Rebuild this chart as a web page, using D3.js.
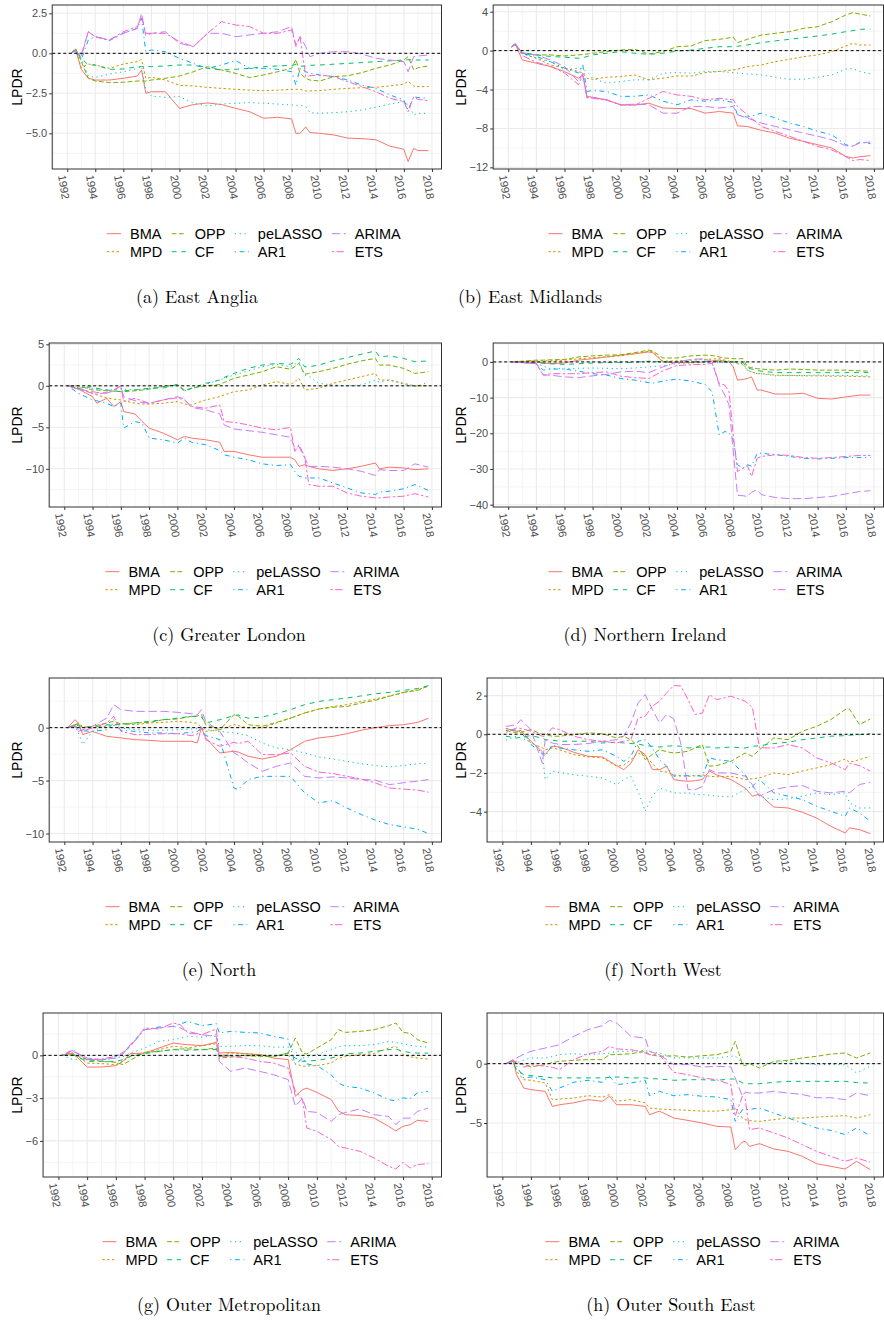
<!DOCTYPE html>
<html>
<head>
<meta charset="utf-8">
<script src="https://cdn.jsdelivr.net/npm/d3@7"></script>
<style>
  * { margin: 0; padding: 0; }
  body { background: #fff; width: 884px; height: 1321px; overflow: hidden; }
  svg { display: block; }
  .tl { font-family: "Liberation Sans", Arial, sans-serif; font-size: 11px; fill: #4d4d4d; }
  .ytitle { font-family: "Liberation Sans", Arial, sans-serif; font-size: 14px; fill: #000; }
  .leg { font-family: "Liberation Sans", Arial, sans-serif; font-size: 14.5px; fill: #000; }
  .cap { font-family: "Latin Modern Roman", "CMU Serif", "Liberation Serif", serif; font-size: 18px; fill: #000; }
</style>
</head>
<body>
<svg id="chart" width="884" height="1321"></svg>
<script>
// series order in every panel array below
const methods = ["BMA", "MPD", "OPP", "CF", "peLASSO", "AR1", "ARIMA", "ETS"];
const colors = ["#F8766D", "#CD9600", "#7CAE00", "#00BE67", "#00BFC4", "#00A9FF", "#C77CFF", "#FF61CC"];
const dashes = [null, "2.4,2.4", "4.8,2.4", "4.8,4.8", "1.2,3.6", "1.2,3.6,4.8,3.6", "8.4,3.6", "2.4,2.4,7.2,2.4"];
const yearTicks = d3.range(1992, 2019, 2);

// (a) East Anglia
const yearsA = [1992.25, 1992.6, 1993, 1993.5, 1994, 1995, 1996, 1997, 1997.3, 1997.6, 1998, 1999, 2000, 2001, 2002, 2003, 2004, 2005, 2006, 2007, 2008, 2008.3, 2008.6, 2009, 2009.3, 2010, 2011, 2012, 2013, 2014, 2015, 2016, 2016.3, 2016.7, 2017, 2017.75];
const eastAnglia = [
  [0, 0.25, -1.0, -1.56, -1.67, -1.67, -1.56, -1.42, -1.04, -2.5, -2.4, -2.4, -3.44, -3.2, -3.1, -3.2, -3.44, -3.65, -4.06, -4.0, -4.1, -5.0, -5.0, -4.6, -4.95, -5.0, -5.1, -5.3, -5.33, -5.4, -5.8, -6.0, -6.77, -5.94, -6.08, -6.08],
  [0, 0.25, -0.9, -0.67, -0.73, -0.94, -0.67, -0.52, -0.38, -1.56, -1.5, -1.67, -2.0, -2.04, -2.13, -2.19, -2.25, -2.3, -2.33, -2.3, -2.25, -2.25, -2.25, -2.35, -2.35, -2.33, -2.25, -2.19, -2.15, -2.12, -2.04, -1.92, -1.75, -2.04, -2.08, -2.08],
  [0, 0.3, -0.5, -1.56, -1.73, -1.83, -1.81, -1.73, -1.73, -1.73, -1.67, -1.56, -1.42, -1.15, -0.83, -1.04, -1.25, -1.52, -1.35, -1.15, -0.94, -0.38, -1.25, -1.56, -1.67, -1.73, -1.46, -1.4, -1.21, -0.94, -0.73, -0.42, -0.21, -1.04, -0.9, -0.79],
  [0, 0.2, -0.3, -0.73, -0.73, -1.0, -0.98, -0.83, -0.83, -0.83, -0.83, -0.79, -0.73, -0.73, -0.94, -1.04, -1.0, -0.94, -0.83, -0.79, -0.75, -0.7, -0.8, -0.8, -0.75, -0.73, -0.68, -0.63, -0.58, -0.52, -0.47, -0.42, -0.4, -0.42, -0.42, -0.42],
  [0, 0.2, -0.3, -1.42, -1.5, -1.3, -1.15, -0.94, -0.83, -2.29, -2.67, -2.75, -2.7, -3.12, -3.29, -3.17, -3.12, -3.08, -3.12, -3.17, -3.23, -3.25, -3.25, -3.33, -3.71, -3.75, -3.71, -3.65, -3.54, -3.37, -3.17, -3.02, -3.2, -3.85, -3.75, -3.75],
  [0, 0.1, -0.4, 0.83, 1.04, 0.79, 1.25, 1.56, 2.19, 0.1, 0.21, 0.1, -0.31, -0.63, -0.94, -0.73, -0.45, -0.94, -0.94, -1.0, -1.15, -1.98, -0.94, -1.15, -1.25, -1.35, -1.46, -1.67, -1.98, -2.19, -2.6, -2.92, -3.54, -2.71, -2.77, -2.81],
  [0, 0.15, -0.1, 1.35, 1.04, 0.83, 1.25, 1.56, 2.5, 1.08, 1.25, 1.35, 0.63, 0.42, 1.25, 1.25, 1.04, 1.15, 1.25, 1.35, 1.67, 0.42, 1.04, 0.42, -0.21, 0, 0.1, 0.1, -0.04, -0.31, -0.42, -0.52, -1.15, -0.21, -0.17, -0.1],
  [0, 0.15, -0.2, 1.35, 1.04, 0.83, 1.35, 1.67, 2.29, 1.25, 1.25, 1.25, 0.73, 0.42, 1.25, 1.98, 1.77, 1.67, 1.25, 1.25, 1.46, 0.52, 1.04, -1.46, -1.4, -1.35, -1.46, -1.77, -2.08, -2.4, -2.81, -3.02, -3.65, -2.71, -2.88, -2.96]
];

// (b) East Midlands
const yearsB = [1992.25, 1992.5, 1993, 1994, 1995, 1996, 1997, 1997.3, 1997.6, 1998, 1999, 2000, 2001, 2002, 2003, 2004, 2005, 2006, 2007, 2008, 2008.3, 2009, 2010, 2011, 2012, 2013, 2014, 2015, 2016, 2016.5, 2017, 2017.75];
const eastMidlands = [
  [0.4, 0.7, -0.96, -1.3, -1.64, -2.15, -2.84, -2.5, -4.7, -4.8, -5.06, -5.57, -5.6, -5.4, -5.9, -5.95, -5.95, -6.43, -6.26, -6.43, -7.73, -7.8, -8.2, -8.48, -9.0, -9.33, -9.67, -10.0, -10.87, -11.04, -10.9, -10.8],
  [0.4, 0.7, -0.3, -0.79, -1.47, -1.8, -2.15, -2.3, -2.84, -2.94, -2.74, -2.67, -2.5, -3.0, -2.84, -2.6, -2.62, -2.26, -2.15, -1.98, -1.9, -1.64, -1.47, -1.13, -0.89, -0.62, -0.44, -0.1, 0.48, 0.75, 0.58, 0.58],
  [0.4, 0.7, -0.27, -0.44, -0.44, -0.55, -0.44, -0.4, -0.35, -0.27, -0.1, 0.07, 0.14, -0.34, -0.1, 0.4, 0.48, 1.03, 1.16, 1.37, 0.82, 1.16, 1.6, 1.78, 1.95, 2.29, 2.46, 2.97, 3.66, 3.9, 3.76, 3.56],
  [0.4, 0.6, -0.2, -0.44, -0.6, -0.68, -0.79, -0.75, -0.6, -0.44, -0.27, -0.1, -0.27, -0.38, -0.27, -0.05, 0.05, 0.24, 0.4, 0.4, 0.45, 0.58, 0.82, 1.0, 1.16, 1.35, 1.5, 1.7, 1.95, 2.05, 2.19, 2.22],
  [0.4, 0.6, -0.3, -0.79, -1.13, -1.98, -1.8, -1.9, -2.2, -2.84, -3.35, -3.18, -3.0, -3.0, -2.32, -2.26, -2.32, -2.15, -2.15, -2.26, -2.3, -2.4, -2.5, -2.74, -2.94, -2.94, -2.74, -2.5, -1.9, -1.85, -2.15, -2.4],
  [0.4, 0.6, -0.3, -0.6, -1.13, -1.8, -2.3, -1.47, -4.2, -4.1, -4.2, -4.7, -4.7, -4.55, -5.2, -5.57, -5.06, -5.2, -5.06, -5.33, -6.6, -6.84, -6.43, -6.94, -7.45, -7.8, -8.3, -8.65, -9.67, -9.85, -9.4, -9.57],
  [0.4, 0.7, -0.2, -0.45, -0.96, -1.64, -3.2, -2.32, -4.9, -4.8, -5.06, -5.57, -5.5, -5.57, -6.43, -6.43, -5.74, -5.74, -5.9, -5.74, -6.6, -6.94, -7.45, -7.8, -8.14, -8.48, -8.8, -9.16, -9.78, -9.8, -9.5, -9.4],
  [0.4, 0.7, -0.5, -1.2, -1.6, -2.3, -3.5, -2.5, -4.8, -4.9, -5.1, -5.6, -5.6, -4.9, -4.2, -4.55, -4.7, -5.06, -4.9, -5.06, -5.74, -6.6, -7.8, -8.3, -8.8, -9.33, -9.85, -10.2, -10.9, -11.3, -11.2, -11.3]
];

// (c) Greater London
const yearsC = [1992.25, 1993, 1994, 1994.3, 1995, 1995.5, 1996, 1996.2, 1997, 1997.5, 1998, 1999, 2000, 2000.5, 2001, 2002, 2003, 2003.3, 2004, 2005, 2006, 2007, 2008, 2008.3, 2008.6, 2009, 2009.3, 2010, 2011, 2012, 2013, 2014, 2014.3, 2015, 2016, 2016.8, 2017.75];
const greaterLondon = [
  [0, -0.4, -1.3, -2.1, -1.5, -2.5, -1.9, -3.1, -3.4, -4.3, -5.1, -5.7, -6.5, -6.1, -6.3, -6.5, -6.8, -7.9, -7.9, -8.3, -8.6, -8.6, -8.6, -8.9, -9.7, -9.5, -9.7, -10.0, -10.2, -10.0, -9.7, -9.3, -10.0, -9.8, -9.9, -10.1, -10.0],
  [0, -0.3, -0.9, -1.1, -1.45, -1.6, -1.7, -1.8, -2.1, -2.2, -2.2, -2.1, -1.9, -2.2, -2.3, -1.7, -1.3, -1.1, -0.7, -0.5, 0.1, 0.5, 0.16, 0.5, 0.9, -0.5, -0.45, -0.3, 0.3, 0.7, 1.1, 1.5, 0.7, 0.7, 0.3, 0, 0],
  [0, 0, -0.5, -0.5, -0.6, -0.65, -0.7, -0.7, -0.6, -0.5, -0.4, -0.1, 0.16, -0.5, -0.3, 0, 0.16, 0.4, 0.9, 1.3, 1.7, 2.3, 2.0, 2.3, 2.7, 1.4, 1.5, 1.7, 2.1, 2.6, 3.0, 3.3, 2.5, 2.5, 2.1, 1.5, 1.7],
  [0, -0.3, -0.1, -0.3, -0.5, -0.6, -0.7, -0.6, -0.5, -0.4, -0.3, -0.25, 0.16, -0.7, -0.3, 0.3, 0.7, 1.0, 1.5, 2.1, 2.5, 2.7, 2.6, 2.9, 3.3, 2.3, 2.3, 2.5, 3.0, 3.4, 3.8, 4.2, 3.5, 3.6, 3.3, 2.9, 3.0],
  [0, -0.2, -0.3, -0.4, -0.5, -0.5, -0.3, -0.4, -0.5, -0.4, -0.3, -0.1, 0.1, -0.6, -0.3, 0.2, 0.7, 0.9, 1.3, 1.8, 2.3, 2.6, 2.3, 2.6, 2.9, 1.3, 1.2, 0.3, 0.1, 0, 0.1, 0.7, 0.4, 0.7, 0.2, -0.1, 0.4],
  [0, -0.9, -1.7, -1.8, -2.1, -2.5, -2.1, -5.1, -4.3, -4.5, -6.3, -6.5, -6.9, -6.3, -6.8, -7.1, -7.8, -8.3, -8.6, -8.9, -9.4, -9.6, -9.5, -10.3, -10.9, -11.1, -11.1, -11.1, -11.7, -12.3, -12.9, -13.1, -12.8, -12.7, -12.4, -11.9, -12.6],
  [0, -0.4, -0.7, -0.8, -0.9, -0.6, 0, -1.3, -1.8, -2.0, -2.1, -1.7, -1.3, -1.6, -2.6, -2.9, -3.4, -4.7, -5.2, -5.4, -5.6, -5.9, -6.2, -7.5, -7.3, -8.7, -9.7, -9.7, -9.8, -10.0, -10.3, -10.8, -10.1, -10.2, -10.2, -9.4, -9.8],
  [0, -0.4, -0.9, -1.0, -0.8, -0.5, 0, -1.9, -1.5, -1.8, -2.1, -1.7, -1.45, -1.7, -2.5, -2.7, -2.3, -4.3, -4.4, -4.7, -5.1, -5.3, -5.0, -7.9, -7.1, -8.5, -11.9, -12.1, -12.1, -12.9, -13.3, -13.5, -13.5, -13.4, -13.3, -13.0, -13.4]
];

// (d) Northern Ireland
const yearsD = [1992.25, 1993, 1994, 1994.5, 1995, 1996, 1997, 1998, 1999, 2000, 2001, 2002, 2002.3, 2003, 2004, 2005, 2006, 2006.5, 2007, 2007.4, 2007.7, 2008, 2008.3, 2008.7, 2009, 2009.3, 2009.7, 2010, 2011, 2012, 2013, 2014, 2015, 2016, 2017, 2017.75];
const northernIreland = [
  [0, 0, 0, -0.3, -0.5, -0.3, 0.5, 0.9, 1.4, 1.9, 2.3, 2.8, 2.5, 0, -0.2, -0.2, 0, 0.3, 0.5, 0.2, 0, -1.4, -5.1, -4.9, -4.65, -4.2, -7.9, -7.9, -9.0, -9.0, -8.8, -10.2, -10.4, -9.8, -9.3, -9.3],
  [0, 0.1, 0.3, 0.3, 0.3, 0.5, 0.9, 1.2, 1.4, 1.7, 2.3, 3.0, 2.8, 0.2, 0.3, 0.5, 0.7, 0.8, 0.9, 0.5, 0.2, 0, -0.5, -0.8, -2.3, -2.8, -3.3, -3.3, -3.7, -3.8, -3.9, -3.9, -4.0, -4.0, -4.1, -4.2],
  [0, 0.2, 0.5, 0.5, 0.6, 0.7, 1.4, 1.7, 1.9, 2.0, 2.6, 3.3, 3.0, 1.1, 1.1, 1.7, 1.9, 1.8, 1.4, 1.1, 1.0, 0.9, 0.9, 0.9, -1.4, -1.6, -1.9, -2.0, -2.3, -2.0, -2.1, -2.3, -2.3, -2.3, -2.5, -2.6],
  [0, -0.1, -0.2, -0.4, -0.5, -0.7, -0.5, -0.3, -0.2, -0.2, -0.1, 0.2, 0.1, 0, 0, 0.1, 0.2, 0.2, 0.1, 0, 0, 0, 0, -0.2, -1.7, -2.0, -2.4, -2.6, -3.0, -3.0, -3.0, -3.0, -3.0, -3.0, -3.0, -3.0],
  [0, -0.1, -0.5, -1.2, -1.9, -1.9, -1.8, -1.7, -1.8, -1.9, -1.7, -1.4, -1.3, -1.1, -0.5, -0.3, -0.2, -0.2, -0.2, -0.2, -0.2, -0.2, -0.3, -0.5, -2.3, -2.8, -3.3, -3.3, -3.9, -3.8, -3.8, -3.7, -3.8, -3.8, -3.9, -3.9],
  [0, -0.2, -0.5, -2.3, -2.0, -2.0, -2.6, -3.3, -3.7, -4.65, -5.1, -5.8, -5.9, -5.4, -4.8, -5.4, -6.3, -8.4, -20.5, -19.5, -19.8, -22, -28.8, -29.8, -28.8, -29.2, -25.6, -25.6, -26.0, -26.5, -27.0, -27.2, -27.0, -26.8, -26.8, -26.8],
  [0, -0.2, -0.5, -3.7, -3.7, -4.2, -4.4, -3.9, -3.5, -2.8, -2.6, -3.0, -2.5, -1.4, 0, 0.7, 0.9, 0, -6.5, -9.3, -12.1, -25.1, -37.4, -37.5, -37.7, -36.5, -35.8, -37.2, -38.0, -38.3, -38.3, -38.0, -37.7, -37.0, -36.3, -36.1],
  [0, -0.2, -0.5, -3.7, -3.3, -3.3, -3.3, -3.0, -2.8, -4.0, -4.4, -4.65, -4.0, -2.5, -1.0, -0.8, -0.7, -0.4, -6.0, -6.5, -8.4, -20.5, -30.7, -29.8, -29.0, -32.1, -27.0, -26.5, -26.0, -26.2, -26.8, -27.0, -26.8, -26.5, -26.2, -26.2]
];

// (e) North
const yearsE = [1992.25, 1992.75, 1993, 1993.3, 1994, 1995, 1995.5, 1996, 1997, 1998, 1999, 2000, 2001, 2001.4, 2001.7, 2002, 2003, 2004, 2004.3, 2005, 2006, 2007, 2008, 2009, 2010, 2011, 2012, 2013, 2014, 2015, 2016, 2017, 2017.75];
const north = [
  [0, 0.75, 0.45, -0.66, -0.35, -0.82, -0.9, -0.97, -1.13, -1.2, -1.29, -1.29, -1.29, -1.45, 0, -0.97, -2.39, -2.23, -2.3, -2.7, -2.96, -2.7, -2.08, -1.29, -0.97, -0.82, -0.57, -0.25, 0, 0.19, 0.28, 0.5, 0.88],
  [0, 0.3, 0.45, 0.1, -0.03, 0.13, 0.2, 0.38, 0.28, 0.44, 0.5, 0.6, 0.5, 0.4, 0, -0.35, -0.19, 0.28, 0.2, -0.03, -0.03, 0.44, 0.9, 1.38, 1.76, 2.0, 2.17, 2.48, 2.7, 3.0, 3.33, 3.58, 3.9],
  [0, 0.3, 0.28, 0.0, 0.13, 0.44, 0.6, 0.35, 0.44, 0.5, 0.75, 0.82, 1.07, 1.1, 1.23, 0.28, -0.19, 1.23, 1.1, 0.28, 0.13, 0.5, 0.9, 1.38, 1.76, 1.92, 2.0, 2.33, 2.58, 2.96, 3.33, 3.52, 3.96],
  [0, 0.2, 0.19, 0.1, 0.06, 0.25, 0.3, 0.28, 0.44, 0.6, 0.75, 0.9, 1.07, 1.05, 1.0, 0.44, 0.75, 1.13, 1.2, 0.9, 1.0, 1.32, 1.7, 2.17, 2.48, 2.64, 2.8, 3.0, 3.2, 3.33, 3.52, 3.7, 3.96],
  [0, 0.1, -0.5, -1.6, -0.35, 0.28, 0.75, -0.03, -0.19, -0.25, -0.25, -0.19, -0.13, -0.1, 0.13, -0.19, -0.35, -0.5, -0.55, -0.75, -1.45, -1.92, -2.08, -2.39, -2.77, -2.96, -3.18, -3.4, -3.58, -3.7, -3.58, -3.4, -3.4],
  [0, 0.2, -0.03, -0.3, -0.35, -0.19, 0.44, -0.25, -0.35, -0.5, -0.5, -0.57, -0.44, -0.4, 0, -0.75, -1.13, -5.7, -5.85, -4.9, -4.6, -4.6, -4.6, -6.16, -7.1, -6.9, -7.6, -8.2, -8.74, -9.15, -9.37, -9.6, -10.0],
  [0, 0.1, -0.35, -0.2, 0.13, 0.9, 2.17, 1.7, 1.54, 1.54, 1.54, 1.45, 1.32, 1.2, 1.7, 0.6, -0.35, -2.39, -2.6, -3.33, -4.12, -3.65, -3.33, -4.6, -4.75, -4.65, -4.75, -4.9, -4.95, -5.38, -5.2, -5.05, -4.9],
  [0, 0.1, -0.19, -0.3, -0.03, 0.44, 1.07, -0.35, -0.66, -0.66, -0.57, -0.57, -0.75, -0.6, 0, -1.13, -1.76, -1.38, -1.5, -1.29, -2.55, -2.55, -2.39, -3.65, -4.2, -4.33, -4.6, -4.85, -5.22, -5.7, -5.8, -5.9, -6.1]
];

// (f) North West
const yearsF = [1992.25, 1993, 1993.3, 1994, 1994.8, 1995, 1995.5, 1996, 1997, 1998, 1999, 2000, 2000.5, 2001, 2001.5, 2002, 2002.5, 2003, 2003.5, 2004, 2004.5, 2005, 2005.5, 2006, 2006.5, 2007, 2008, 2009, 2009.5, 2010, 2011, 2012, 2013, 2014, 2015, 2016, 2016.3, 2017, 2017.75];
const northWest = [
  [0.3, 0.15, 0.2, -0.36, -0.9, -1.05, -0.62, -0.65, -0.93, -1.14, -1.17, -1.62, -1.83, -1.5, -0.8, -1.05, -1.83, -1.83, -1.65, -2.34, -2.4, -2.43, -2.4, -2.34, -1.9, -2.1, -2.34, -2.78, -3.2, -3.1, -3.76, -3.81, -4.03, -4.33, -4.76, -5.1, -4.84, -4.93, -5.14],
  [0.3, 0.15, 0.2, -0.45, -0.7, -0.8, -0.7, -0.8, -1.05, -1.17, -1.22, -1.65, -1.6, -1.31, -0.97, -1.14, -1.5, -1.9, -1.95, -2.1, -2.15, -2.17, -2.15, -2.1, -2.17, -2.2, -2.17, -2.34, -2.3, -2.26, -2.0, -2.09, -1.9, -1.74, -1.57, -1.28, -1.45, -1.31, -1.14],
  [0.2, 0.07, 0.1, 0.24, 0.0, -0.02, -0.1, -0.1, -0.02, 0.07, 0.03, -0.19, -0.1, -0.28, -0.62, -1.31, -1.05, -0.8, -0.9, -0.97, -0.93, -0.88, -0.7, -0.53, -1.65, -1.62, -1.4, -0.97, -1.14, -0.8, -0.19, -0.28, 0.16, 0.41, 0.76, 1.28, 1.3, 0.5, 0.79],
  [-0.1, -0.19, -0.15, -0.07, -0.2, -0.28, -0.3, -0.36, -0.36, -0.36, -0.45, -0.41, -0.45, -0.48, -0.5, -0.59, -0.62, -0.66, -0.62, -0.59, -0.62, -0.71, -0.68, -0.66, -0.66, -0.71, -0.66, -0.71, -0.62, -0.59, -0.48, -0.41, -0.28, -0.19, -0.1, -0.07, -0.05, -0.02, 0.03],
  [-0.3, -0.1, -0.2, -0.36, -1.0, -2.34, -1.9, -1.98, -2.09, -2.17, -2.26, -2.6, -2.34, -2.17, -2.95, -3.98, -3.2, -2.78, -2.9, -3.03, -3.05, -3.03, -3.1, -3.12, -3.15, -3.2, -3.24, -2.86, -2.69, -3.2, -3.38, -3.34, -3.2, -3.03, -3.12, -3.03, -3.55, -3.81, -3.81],
  [0.2, 0.24, 0.1, -0.53, -1.0, -1.14, -0.53, -0.71, -0.8, -0.88, -0.8, -1.14, -1.4, -1.14, -0.36, -0.28, -0.71, -1.31, -1.65, -2.17, -2.15, -2.14, -2.14, -2.17, -1.22, -1.31, -1.4, -2.09, -2.69, -2.34, -3.03, -3.2, -3.38, -3.72, -3.98, -4.24, -3.81, -4.07, -4.5],
  [0.4, 0.5, 0.76, 0.24, -1.5, -0.3, -0.45, -0.53, -0.53, -0.48, -0.36, -0.28, -0.1, 0.59, 1.62, 2.05, 1.28, 0.59, 1.02, 0.8, -0.5, -2.86, -2.86, -2.7, -1.83, -2.0, -2.0, -2.17, -2.6, -3.2, -2.86, -2.72, -2.65, -2.95, -3.03, -2.95, -3.03, -2.6, -2.48],
  [0.1, 0.33, 0.3, 0.16, -0.1, -0.1, 0.33, 0.24, -0.1, -0.28, -0.36, -0.45, -0.36, -0.28, 0.84, 0.93, 1.45, 1.71, 2.14, 2.52, 2.5, 1.79, 1.02, 1.1, 2.05, 1.79, 1.97, 1.71, 1.4, -0.7, -0.71, -0.53, -0.71, -1.22, -1.48, -1.83, -1.5, -1.62, -1.9]
];

// (g) Outer Metropolitan
const yearsG = [1992.25, 1993, 1994, 1995, 1996, 1996.5, 1997, 1998, 1999, 2000, 2000.5, 2001, 2002, 2003, 2003.2, 2004, 2005, 2006, 2007, 2008, 2008.5, 2009, 2009.3, 2010, 2011, 2011.5, 2012, 2013, 2014, 2015, 2015.5, 2016, 2016.5, 2017, 2017.75];
const outerMetropolitan = [
  [0, 0.16, -0.82, -0.82, -0.72, -0.42, 0.12, 0.16, 0.51, 0.86, 0.8, 0.75, 0.68, 0.91, 0.16, 0.21, 0.12, 0.05, -0.19, -0.3, -2.87, -2.4, -2.3, -2.6, -3.1, -3.9, -4.16, -4.22, -4.4, -4.98, -5.3, -4.98, -4.86, -4.56, -4.63],
  [0, 0.16, -0.54, -0.58, -0.65, -0.4, -0.07, 0.16, 0.4, 0.63, 0.6, 0.51, 0.68, 0.82, -0.07, 0.16, 0.12, 0.05, -0.07, 0.05, -0.58, -0.77, -0.75, -0.72, -0.54, -0.2, -0.07, 0.05, 0.12, 0.51, 0.63, 0.05, -0.1, -0.19, -0.26],
  [0, 0.05, -0.3, -0.42, -0.49, -0.65, -0.35, 0.21, 0.28, 0.4, 0.45, 0.45, 0.4, 0.51, -0.19, -0.12, -0.02, -0.07, -0.07, 0.16, 1.21, 0.16, 0.1, 0.51, 1.1, 1.8, 1.61, 1.68, 1.8, 2.08, 2.27, 1.61, 1.55, 1.1, 0.86],
  [0, 0.05, -0.42, -0.42, -0.42, -0.3, -0.07, 0.12, 0.28, 0.4, 0.38, 0.35, 0.4, 0.4, -0.07, -0.02, -0.02, -0.02, -0.07, 0.16, -0.19, -0.42, -0.4, -0.35, -0.19, -0.05, 0.12, 0.16, 0.28, 0.4, 0.45, 0.28, 0.2, 0.16, 0.16],
  [0, -0.3, -0.19, -0.3, -0.19, -0.1, 0.16, 0.51, 0.98, 1.1, 1.2, 1.33, 1.28, 1.45, 0.63, 0.63, 0.68, 0.68, 0.58, 0.58, 0.28, -0.19, -0.15, 0.05, 0.4, 0.6, 0.68, 0.68, 0.75, 0.98, 0.9, 0.82, 0.7, 0.63, 0.58],
  [0, 0.4, -0.3, -0.35, -0.07, 0.2, 0.63, 1.8, 1.99, 2.03, 2.2, 2.38, 2.08, 2.22, 1.57, 1.68, 1.61, 1.57, 1.33, 1.14, -0.65, -0.19, -0.6, -0.72, -1.36, -1.95, -2.17, -2.29, -2.64, -3.1, -3.2, -2.98, -3.05, -2.64, -2.52],
  [0, 0.28, -0.19, -0.3, -0.19, 0.1, 0.75, 1.8, 1.92, 2.03, 1.92, 1.68, 1.45, 1.33, -0.42, -1.12, -0.89, -1.12, -1.36, -1.7, -3.57, -3.0, -3.93, -4.0, -4.63, -4.16, -4.0, -3.76, -4.16, -4.28, -4.86, -4.4, -4.4, -3.93, -3.7],
  [0, 0.35, -0.3, -0.26, -0.07, 0.2, 0.63, 1.92, 1.85, 2.27, 2.15, 1.57, 1.45, 1.85, -0.07, -0.07, -0.19, -0.42, -0.54, -0.89, -2.52, -3.1, -5.1, -5.33, -5.9, -6.38, -6.5, -6.73, -7.2, -7.78, -7.97, -7.5, -7.9, -7.66, -7.59]
];

// (h) Outer South East
const yearsH = [1992.25, 1992.75, 1993, 1993.5, 1994, 1995, 1995.5, 1996, 1997, 1998, 1999, 1999.5, 2000, 2001, 2002, 2002.3, 2003, 2004, 2005, 2006, 2007, 2008, 2008.3, 2008.8, 2009, 2009.3, 2010, 2011, 2012, 2013, 2014, 2015, 2016, 2016.8, 2017.75];
const outerSouthEast = [
  [0, 0.34, -0.93, -2.05, -2.19, -2.33, -3.6, -3.46, -3.3, -3.03, -3.17, -2.75, -3.46, -3.46, -3.6, -4.3, -4.0, -4.58, -4.78, -5.0, -5.28, -5.34, -7.25, -6.6, -6.54, -6.97, -6.74, -7.19, -7.39, -7.81, -8.43, -8.65, -8.88, -8.23, -8.93],
  [0, 0.2, -0.65, -1.35, -1.4, -1.63, -3.03, -2.98, -2.9, -2.7, -2.82, -2.61, -3.17, -3.03, -3.3, -3.74, -3.82, -3.88, -3.93, -4.0, -4.0, -3.88, -3.74, -4.58, -4.72, -4.8, -4.86, -4.72, -4.58, -4.58, -4.5, -4.44, -4.38, -4.58, -4.3],
  [0, 0.2, 0.05, -0.08, -0.28, -0.08, 0.1, 0.2, 0.28, 0.34, 0.34, 0.76, 0.76, 0.84, 1.04, 0.76, 0.62, 0.67, 0.56, 0.67, 0.76, 1.04, 1.88, -0.08, -0.17, 0, -0.37, 0.2, 0.28, 0.48, 0.62, 0.81, 0.9, 0.48, 0.9],
  [0, 0.1, -0.5, -0.93, -1.01, -1.12, -1.2, -1.2, -1.2, -1.2, -1.2, -1.15, -1.12, -1.2, -1.2, -1.25, -1.29, -1.4, -1.35, -1.35, -1.4, -1.29, -1.3, -1.6, -1.69, -1.69, -1.69, -1.57, -1.49, -1.49, -1.49, -1.49, -1.49, -1.6, -1.63],
  [0, 0.3, 0.05, 0.3, 0.48, 0.48, 0.6, 0.76, 0.84, 0.76, 0.84, 0.9, 1.04, 1.04, 1.12, 1.0, 0.9, 0.48, 0.48, 0.48, 0.48, 0.62, 0.67, 0.05, 0, 0, 0, 0.05, 0.2, 0.05, -0.08, -0.08, -0.08, -0.79, -0.22],
  [0, 0.2, -0.22, -1.2, -1.12, -1.35, -2.33, -2.05, -1.57, -1.4, -1.57, -1.07, -1.77, -1.63, -1.4, -2.7, -2.33, -2.7, -2.61, -2.75, -2.81, -3.03, -4.86, -3.88, -3.88, -3.85, -3.74, -4.16, -4.58, -5.0, -5.42, -5.62, -5.98, -5.42, -6.07],
  [0, 0.3, 0.48, 0.8, 1.04, 1.32, 1.45, 1.6, 2.3, 2.87, 3.2, 3.65, 3.43, 2.3, 2.16, 1.04, 0.76, -0.08, -0.08, -0.28, -0.22, -0.28, -1.2, -2.75, -2.4, -2.47, -2.47, -2.33, -2.47, -2.6, -2.87, -2.87, -3.03, -2.47, -2.7],
  [0, 0.2, 0.2, -0.3, -0.08, -0.22, -0.3, -0.5, 0.34, 0.84, 1.04, 1.46, 1.24, 1.18, 0.9, 0.76, 0.76, -0.73, -0.93, -1.2, -1.35, -1.77, -4.44, -2.75, -3.0, -5.56, -5.42, -5.84, -6.26, -6.83, -7.39, -7.81, -8.23, -7.95, -8.3]
];

const panels = [
  { cap: "(a) East Anglia", years: yearsA, vals: eastAnglia, ticks: [-5, -2.5, 0, 2.5], dom: [-7.23, 3.02], dec: 1, capX: 197 },
  { cap: "(b) East Midlands", years: yearsB, vals: eastMidlands, ticks: [-12, -8, -4, 0, 4], dom: [-12.17, 4.69], dec: 0, capX: 530 },
  { cap: "(c) Greater London", years: yearsC, vals: greaterLondon, ticks: [-10, -5, 0, 5], dom: [-14.6, 5.16], dec: 0, capX: 229 },
  { cap: "(d) Northern Ireland", years: yearsD, vals: northernIreland, ticks: [-40, -30, -20, -10, 0], dom: [-40.65, 5.3], dec: 0, capX: 645 },
  { cap: "(e) North", years: yearsE, vals: north, ticks: [-10, -5, 0], dom: [-10.8, 4.69], dec: 0, capX: 219 },
  { cap: "(f) North West", years: yearsF, vals: northWest, ticks: [-4, -2, 0, 2], dom: [-5.57, 2.91], dec: 0, capX: 663 },
  { cap: "(g) Outer Metropolitan", years: yearsG, vals: outerMetropolitan, ticks: [-6, -3, 0], dom: [-8.53, 2.97], dec: 0, capX: 229 },
  { cap: "(h) Outer South East", years: yearsH, vals: outerSouthEast, ticks: [-5, 0], dom: [-9.55, 4.27], dec: 0, capX: 671 }
];

const svg = d3.select("#chart");
const colX = [0, 444];
const colRight = [441.5, 883.5];
const rowTop = [5, 343, 678, 1013];
const plotH = 164;
const xDomain = [1990.93, 2018.68];

panels.forEach((p, i) => {
  const col = i % 2, row = Math.floor(i / 2);
  const ox = colX[col], top = rowTop[row], bottom = top + plotH;
  const g = svg.append("g");
  const fmt = p.dec ? d3.format(".1f") : d3.format("d");

  // measure widest y label to place the panel
  let maxW = 0;
  const probe = g.append("g");
  p.ticks.forEach(v => {
    const t = probe.append("text").attr("class", "tl").text(fmt(v));
    maxW = Math.max(maxW, t.node().getComputedTextLength());
  });
  probe.remove();
  const left = ox + 27 + maxW + 3.5;
  const right = colRight[col];

  const x = d3.scaleLinear().domain(xDomain).range([left, right]);
  const y = d3.scaleLinear().domain(p.dom).range([bottom, top]);

  // grid
  const step = p.ticks[1] - p.ticks[0];
  const minorY = d3.range(p.ticks[0] - step / 2, p.dom[1], step).filter(v => v > p.dom[0]);
  const minorX = d3.range(1991, 2019, 2);
  const grid = g.append("g");
  grid.selectAll(".my").data(minorY).join("line")
    .attr("x1", left).attr("x2", right).attr("y1", d => y(d)).attr("y2", d => y(d))
    .attr("stroke", "#ebebeb").attr("stroke-width", 0.55);
  grid.selectAll(".mx").data(minorX.filter(v => x(v) > left && x(v) < right)).join("line")
    .attr("y1", top).attr("y2", bottom).attr("x1", d => x(d)).attr("x2", d => x(d))
    .attr("stroke", "#ebebeb").attr("stroke-width", 0.55);
  grid.selectAll(".gy").data(p.ticks).join("line")
    .attr("x1", left).attr("x2", right).attr("y1", d => y(d)).attr("y2", d => y(d))
    .attr("stroke", "#ebebeb").attr("stroke-width", 1.1);
  grid.selectAll(".gx").data(yearTicks).join("line")
    .attr("y1", top).attr("y2", bottom).attr("x1", d => x(d)).attr("x2", d => x(d))
    .attr("stroke", "#ebebeb").attr("stroke-width", 1.1);

  // series
  const clipId = "clip" + i;
  g.append("clipPath").attr("id", clipId).append("rect")
    .attr("x", left).attr("y", top).attr("width", right - left).attr("height", plotH);
  const line = d3.line().x(d => x(d[0])).y(d => y(d[1]));
  const lines = g.append("g").attr("clip-path", `url(#${clipId})`);
  p.vals.forEach((vals, k) => {
    lines.append("path")
      .datum(d3.zip(p.years, vals))
      .attr("d", line)
      .attr("fill", "none")
      .attr("stroke", colors[k])
      .attr("stroke-width", 1)
      .attr("stroke-dasharray", dashes[k]);
  });

  // zero line
  g.append("line")
    .attr("x1", left).attr("x2", right).attr("y1", y(0)).attr("y2", y(0))
    .attr("stroke", "#000").attr("stroke-width", 1).attr("stroke-dasharray", "3,2.5");

  // border
  g.append("rect").attr("x", left).attr("y", top).attr("width", right - left).attr("height", plotH)
    .attr("fill", "none").attr("stroke", "#333").attr("stroke-width", 1);

  // axes
  const ya = g.append("g").attr("transform", `translate(${left},0)`)
    .call(d3.axisLeft(y).tickValues(p.ticks).tickFormat(fmt).tickSize(3).tickPadding(2));
  ya.select(".domain").remove();
  ya.selectAll("line").attr("stroke", "#333");
  ya.selectAll("text").attr("class", "tl").attr("font-family", null).attr("font-size", null).attr("fill", null);

  const xa = g.append("g").attr("transform", `translate(0,${bottom})`)
    .call(d3.axisBottom(x).tickValues(yearTicks).tickFormat(d3.format("d")).tickSize(3));
  xa.select(".domain").remove();
  xa.selectAll("line").attr("stroke", "#333");
  xa.selectAll("text").attr("class", "tl").attr("font-family", null).attr("font-size", null).attr("fill", null)
    .attr("x", 0).attr("y", 0).attr("dy", "0.35em")
    .attr("text-anchor", "start")
    .attr("transform", "translate(-6,6) rotate(80)");

  // y title
  g.append("text").attr("class", "ytitle")
    .attr("transform", `translate(${ox + 17.5},${(top + bottom) / 2}) rotate(-90)`)
    .attr("text-anchor", "middle").attr("dy", "0.35em").text("LPDR");

  // legend: 2 rows, 4 columns, filled column-wise
  const lg = g.append("g");
  const rowsY = [bottom + 64.7, bottom + 82.7];
  const colW = [];
  for (let c = 0; c < 4; c++) {
    let w = 0;
    [2 * c, 2 * c + 1].forEach(k => {
      const t = lg.append("text").attr("class", "leg").text(methods[k]);
      w = Math.max(w, t.node().getComputedTextLength());
      t.remove();
    });
    colW.push(23 + w);
  }
  const gap = 9.5;
  const total = d3.sum(colW) + gap * 3;
  let cx = (left + right) / 2 - total / 2 + 7;
  for (let c = 0; c < 4; c++) {
    [2 * c, 2 * c + 1].forEach((k, r) => {
      lg.append("line")
        .attr("x1", cx).attr("x2", cx + 14).attr("y1", rowsY[r]).attr("y2", rowsY[r])
        .attr("stroke", colors[k]).attr("stroke-width", 1).attr("stroke-dasharray", dashes[k]);
      lg.append("text").attr("class", "leg")
        .attr("x", cx + 23).attr("y", rowsY[r]).attr("dy", "0.35em").text(methods[k]);
    });
    cx += colW[c] + gap;
  }

  // caption
  g.append("text").attr("class", "cap")
    .attr("x", p.capX).attr("y", top + 298).attr("text-anchor", "middle").text(p.cap);
});
</script>
</body>
</html>
